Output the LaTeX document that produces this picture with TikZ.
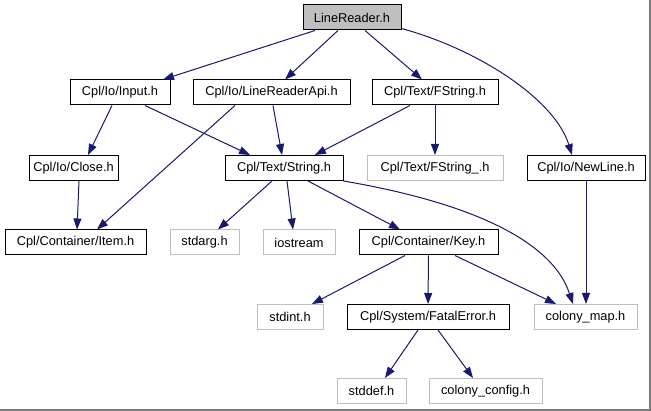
\documentclass[tikz,border=0pt]{standalone}
\usepackage{fontspec}
\setmainfont{Liberation Sans}
\usetikzlibrary{arrows.meta}
\definecolor{edgeblue}{HTML}{191970}
\definecolor{sysgray}{HTML}{BFBFBF}
\definecolor{framegray}{HTML}{7A7A7A}

\begin{document}
\begin{tikzpicture}[x=1pt,y=-1pt,>={Triangle[length=11pt,width=8pt]},
  file/.style={draw=black,line width=1pt,fill=white,inner sep=0pt,minimum height=25pt,font=\fontsize{12.8}{14}\selectfont},
  sys/.style={file,draw=sysgray},
  root/.style={file,fill=sysgray},
  dep/.style={->,edgeblue,line width=1pt}]
\useasboundingbox (0,0) rectangle (651,411);
\fill[white] (0,0) rectangle (651,411);
\draw[framegray,line width=1.6pt] (650.2,0) -- (650.2,410.2) -- (0,410.2);

% Files of the project get a black frame, system headers a grey one.
\node[root,minimum width=98pt] (reader) at (352,17.5) {LineReader.h};
\node[file,minimum width=100pt] (input) at (120,92.5) {Cpl/Io/Input.h};
\node[file,minimum width=157pt] (lrapi) at (271.5,92.5) {Cpl/Io/LineReaderApi.h};
\node[file,minimum width=126pt] (fstring) at (435,92.5) {Cpl/Text/FString.h};
\node[file,minimum width=89pt] (close) at (73.5,168) {Cpl/Io/Close.h};
\node[file,minimum width=118pt] (string) at (284,168) {Cpl/Text/String.h};
\node[sys,minimum width=136pt] (fstringu) at (435,168) {Cpl/Text/FString\_.h};
\node[file,minimum width=118pt] (newline) at (586,168) {Cpl/Io/NewLine.h};
\node[file,minimum width=141pt] (item) at (75.5,242.5) {Cpl/Container/Item.h};
\node[sys,minimum width=69pt] (stdarg) at (204.5,242.5) {stdarg.h};
\node[sys,minimum width=72pt] (iostream) at (299,242.5) {iostream};
\node[file,minimum width=139pt] (key) at (428.5,242.5) {Cpl/Container/Key.h};
\node[sys,minimum width=66pt] (stdint) at (290,317) {stdint.h};
\node[file,minimum width=162pt] (fatal) at (428,317) {Cpl/System/FatalError.h};
\node[sys,minimum width=103pt] (cmap) at (585.5,317) {colony\_map.h};
\node[sys,minimum width=69pt] (stddef) at (371.5,391) {stddef.h};
\node[sys,minimum width=113pt] (cconfig) at (485.5,391) {colony\_config.h};

% Includes of LineReader.h.
\draw[dep] ([xshift=-37pt]reader.south) -- ([xshift=43pt]input.north);
\draw[dep] ([xshift=-14pt]reader.south) -- ([xshift=13.5pt]lrapi.north);
\draw[dep] ([xshift=13pt]reader.south) -- ([xshift=-13pt]fstring.north);
\draw[dep] ([yshift=2pt]reader.south east) .. controls (480,50) and (555,100) .. ([xshift=-14pt]newline.north);

% Second level.
\draw[dep] ([xshift=-8pt]input.south) -- ([xshift=14.5pt]close.north);
\draw[dep] ([xshift=25pt]input.south) -- ([xshift=-34pt]string.north);
\draw[dep] ([xshift=1.5pt]lrapi.south) -- ([xshift=-2pt]string.north);
\draw[dep] ([xshift=-36.5pt]lrapi.south) -- ([xshift=21.5pt]item.north);
\draw[dep] ([xshift=-25pt]fstring.south) -- ([xshift=31pt]string.north);
\draw[dep] (fstring) -- (fstringu);
\draw[dep] ([xshift=5.5pt]close.south) -- ([xshift=1.5pt]item.north);

% Everything that String.h pulls in.
\draw[dep] ([xshift=-12pt]string.south) -- ([xshift=13.5pt]stdarg.north);
\draw[dep] ([xshift=3pt]string.south) -- ([xshift=-6pt]iostream.north);
\draw[dep] ([xshift=24pt]string.south) -- ([xshift=-28.5pt]key.north);
\draw[dep] (string.south east) .. controls (455,200) and (550,235) .. ([xshift=-12.5pt]cmap.north);
\draw[dep] (newline) -- (newline |- cmap.north);

% Key.h and FatalError.h.
\draw[dep] ([xshift=-23.5pt]key.south) -- ([xshift=22pt]stdint.north);
\draw[dep] (key) -- (fatal);
\draw[dep] ([xshift=26.5pt]key.south) -- ([xshift=-29.5pt]cmap.north);
\draw[dep] ([xshift=-10pt]fatal.south) -- ([xshift=13.5pt]stddef.north);
\draw[dep] ([xshift=10pt]fatal.south) -- ([xshift=-12.5pt]cconfig.north);
\end{tikzpicture}
\end{document}
